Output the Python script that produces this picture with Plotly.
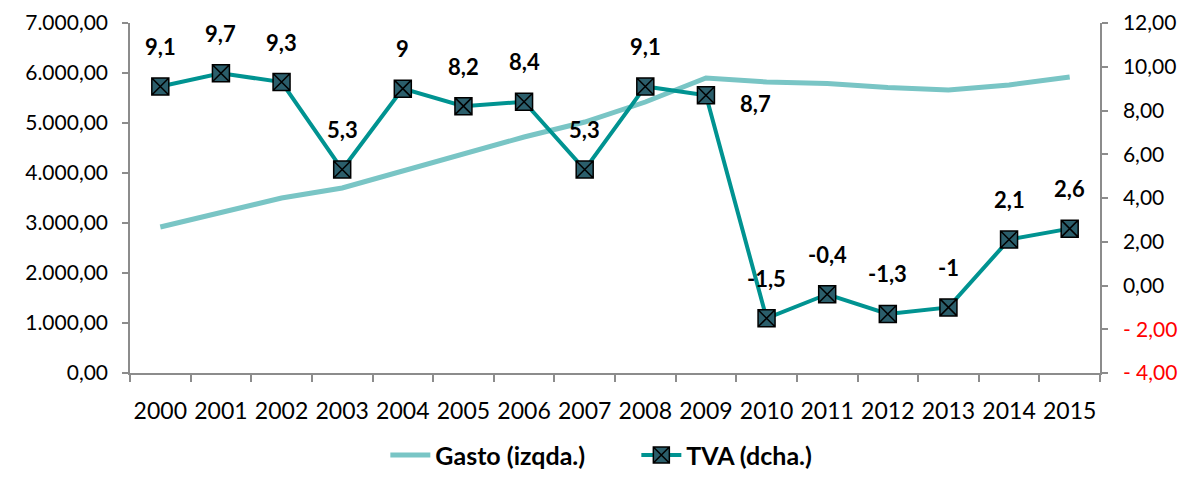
import plotly.graph_objects as go

years = [str(y) for y in range(2000, 2016)]
gasto = [2920, 3200, 3500, 3700, 4040, 4360, 4720, 5020, 5420, 5900, 5820, 5790, 5710, 5660, 5760, 5920]
tva = [9.1, 9.7, 9.3, 5.3, 9.0, 8.2, 8.4, 5.3, 9.1, 8.7, -1.5, -0.4, -1.3, -1.0, 2.1, 2.6]
tva_labels = ["9,1", "9,7", "9,3", "5,3", "9", "8,2", "8,4", "5,3", "9,1", "8,7", "-1,5", "-0,4", "-1,3", "-1", "2,1", "2,6"]
left_ticks = [0, 1000, 2000, 3000, 4000, 5000, 6000, 7000]
right_ticks = [-4, -2, 0, 2, 4, 6, 8, 10, 12]

FONT = "Lato"
AXIS_COLOR = "#8c8c8c"


def fmt_left(v):
    s = f"{v:,.2f}"
    return s.replace(",", "X").replace(".", ",").replace("X", ".")


def fmt_right(v):
    s = f"{abs(v):.2f}".replace(".", ",")
    if v < 0:
        return f"<span style='color:#ff0000'>- {s}</span>"
    return s


fig = go.Figure()
fig.add_trace(go.Scatter(
    x=years, y=gasto, name="Gasto (izqda.)", mode="lines",
    line=dict(color="#79c5c5", width=5), yaxis="y"))
fig.add_trace(go.Scatter(
    x=years, y=tva, name="TVA (dcha.)", mode="lines+markers",
    line=dict(color="#009391", width=4),
    marker=dict(symbol="square-x", size=17, color="#2b5e6b",
                line=dict(color="#000000", width=1.5)),
    yaxis="y2"))

annotations = []
for i, (yr, v, lab) in enumerate(zip(years, tva, tva_labels)):
    xs, ys = 0, 40
    if yr == "2009":
        xs, ys = 50, -8
    annotations.append(dict(
        x=i, y=v, xref="x", yref="y2", text=f"<b>{lab}</b>", showarrow=False,
        xshift=xs, yshift=ys, font=dict(family=FONT, size=22, color="#000000")))

fig.update_layout(
    width=1172, height=463,
    margin=dict(l=122, r=80, t=15, b=98, autoexpand=False),
    paper_bgcolor="white", plot_bgcolor="white",
    font=dict(family=FONT, size=23, color="#000000"),
    showlegend=True,
    legend=dict(orientation="h", x=0.522, xanchor="center", y=-0.235, yanchor="middle",
                font=dict(family=FONT, size=25, color="#000000", weight="bold"),
                itemwidth=40, tracegroupgap=0, entrywidth=196, entrywidthmode="pixels"),
    annotations=annotations,
    xaxis=dict(type="category", range=[-0.5, 15.5], showgrid=False, automargin=False,
               showline=True, linecolor=AXIS_COLOR, linewidth=1.5, tickangle=0,
               ticks="outside", tickson="boundaries", ticklen=7, tickcolor=AXIS_COLOR,
               tickwidth=1.5, ticklabelstandoff=17, zeroline=False),
    yaxis=dict(range=[0, 7000], tickvals=left_ticks, ticktext=[fmt_left(v) for v in left_ticks],
               showgrid=False, showline=True, linecolor=AXIS_COLOR, linewidth=1.5,
               ticks="outside", ticklen=6, tickcolor=AXIS_COLOR, tickwidth=1.5, automargin=False,
               ticklabelstandoff=10, zeroline=False, tickfont=dict(size=21)),
    yaxis2=dict(range=[-4, 12], tickvals=right_ticks, ticktext=[fmt_right(v) for v in right_ticks],
                overlaying="y", side="right", showgrid=False, showline=True, automargin=False,
                linecolor=AXIS_COLOR, linewidth=1.5, ticks="outside", ticklen=6,
                tickcolor=AXIS_COLOR, tickwidth=1.5, ticklabelstandoff=11, zeroline=False,
                tickfont=dict(size=21)),
)

fig.write_html("out.html")
